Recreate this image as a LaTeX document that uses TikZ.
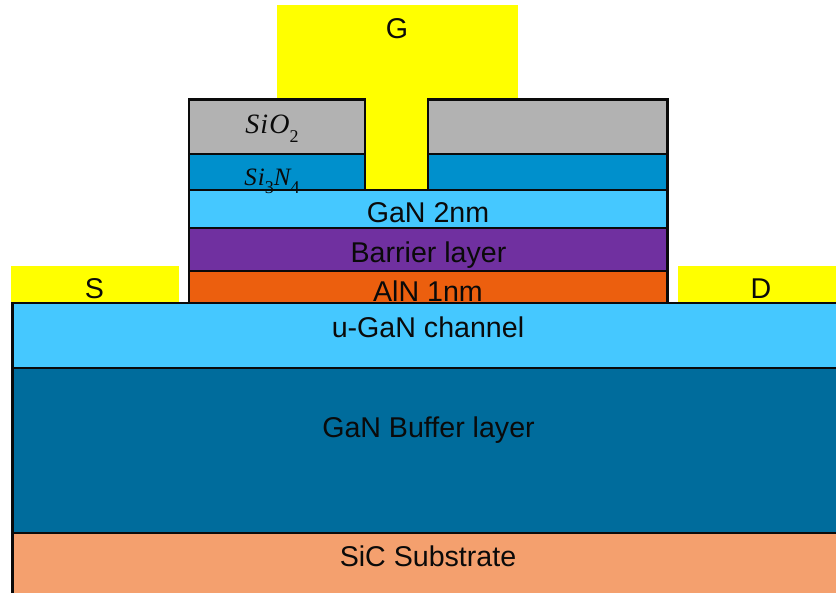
\documentclass[tikz,border=0pt]{standalone}
\usepackage{fontspec}
\setmainfont{Liberation Sans}
\newfontfamily\mathlike{Liberation Serif}[ItalicFont=* Italic,LetterSpace=4]
\definecolor{ltblue}{HTML}{45C8FF}
\definecolor{purp}{HTML}{7030A0}
\definecolor{orng}{HTML}{EC5F0E}
\definecolor{dkblue}{HTML}{006C9C}
\definecolor{salmon}{HTML}{F4A06E}
\definecolor{gry}{HTML}{B2B2B2}
\definecolor{midblue}{HTML}{0090CC}
\definecolor{metalyellow}{RGB}{255,255,0}
\definecolor{ink}{HTML}{0A0A0A}
\tikzset{
  layer/.style={draw=ink,line width=2.6pt},
  metal/.style={fill=metalyellow},
  lbl/.style={anchor=base,inner sep=0pt,font=\fontsize{28.6}{31}\selectfont,text=ink},
  formula/.style={anchor=base,inner sep=0pt,text=ink,font=\fontsize{28}{30}\selectfont\mathlike\itshape},
  formulasm/.style={formula,font=\fontsize{25}{27}\selectfont\mathlike\itshape}
}
\newcommand{\lowsub}[1]{\raisebox{-0.3em}{\fontsize{18}{20}\selectfont\upshape #1}}
\begin{document}
\begin{tikzpicture}[x=1pt,y=-1pt]
\useasboundingbox (0,0) rectangle (836,593);
\begin{scope}
\clip (0,0) rectangle (836,593);
% metals
\path[metal] (277,5) rectangle (518,98);
\path[metal] (365,98) rectangle (428,190);
\path[metal] (11,266) rectangle (179,302);
\path[metal] (678,266) rectangle (840,302);
% fills
\fill[salmon] (12.5,533) rectangle (850,610);
\fill[dkblue] (12.5,368) rectangle (850,533);
\fill[ltblue] (12.5,303) rectangle (850,368);
\fill[orng] (189,271) rectangle (667.5,303);
\fill[purp] (189,228) rectangle (667.5,271);
\fill[ltblue] (189,190) rectangle (667.5,228);
\fill[midblue] (189,154) rectangle (365,190);
\fill[gry] (189,99.5) rectangle (365,154);
\fill[midblue] (428,154) rectangle (667.5,190);
\fill[gry] (428,99.5) rectangle (667.5,154);
% outlines
\draw[layer] (12.5,533) rectangle (850,610);
\draw[layer] (12.5,368) rectangle (850,533);
\draw[layer] (12.5,303) rectangle (850,368);
\draw[layer] (189,271) rectangle (667.5,303);
\draw[layer] (189,228) rectangle (667.5,271);
\draw[layer] (189,190) rectangle (667.5,228);
\draw[layer] (189,154) rectangle (365,190);
\draw[layer] (189,99.5) rectangle (365,154);
\draw[layer] (428,154) rectangle (667.5,190);
\draw[layer] (428,99.5) rectangle (667.5,154);
\end{scope}
% labels
\node[lbl] (g) at (397,39) {G};
\node[lbl] (s) at (94.5,299) {S};
\node[lbl] (d) at (761,299) {D};
\node[lbl] (gan) at (428,222.5) {GaN 2nm};
\node[lbl] (barrier) at (428.5,262.5) {Barrier layer};
\node[lbl] (aln) at (428,302) {AlN 1nm};
\node[lbl] (chan) at (428,337.5) {u-GaN channel};
\node[lbl] (buf) at (428.5,437.5) {GaN Buffer layer};
\node[lbl] (sic) at (428,566.5) {SiC Substrate};
\node[formula] (sio) at (272,134) {SiO\lowsub{2}};
\node[formulasm] (sin) at (272,186) {Si\lowsub{3}N\lowsub{4}};
\end{tikzpicture}
\end{document}
